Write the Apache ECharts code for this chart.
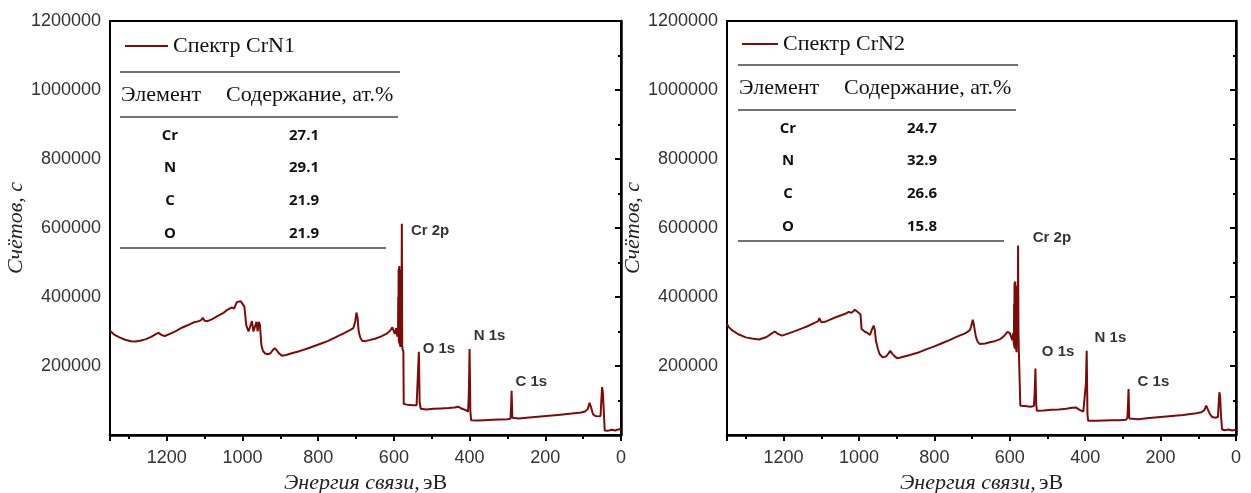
<!DOCTYPE html>
<html>
<head>
<meta charset="utf-8">
<script src="https://cdn.jsdelivr.net/npm/echarts@6/dist/echarts.min.js"></script>
<style>
  html, body { margin: 0; padding: 0; background: #fff; }
  #chart { width: 1251px; height: 493px; }
</style>
</head>
<body>
<div id="chart"></div>
<script>
// Спектр CrN1: энергия связи (эВ) и счёт
const energy1 = [1350, 1340, 1325, 1310, 1295, 1284, 1270, 1255, 1240, 1228, 1222, 1214, 1205, 1190, 1175, 1160, 1145, 1130, 1115, 1108, 1105, 1100, 1092, 1080, 1065, 1050, 1040, 1035, 1028, 1022, 1015, 1010, 1005, 1000, 995, 990, 984, 979, 975, 971, 967, 963, 960, 957, 954, 950, 946, 940, 933, 926, 920, 915, 910, 903, 896, 885, 870, 850, 830, 810, 790, 775, 760, 745, 730, 715, 707, 702, 699, 696, 693, 689, 684, 675, 665, 650, 635, 620, 610, 604, 600, 597, 594,
  591, 589, 588.5, 588, 587.5, 587, 586.5, 586, 585.5, 585, 584.5, 584, 583.5, 583, 582.5, 582, 581.5, 581, 580, 579,
  578, 577, 575, 574, 565, 550, 540, 536, 534, 532, 529, 515, 495, 475, 455, 440, 430, 420, 410, 404, 402, 400, 398, 396, 380, 360, 340, 320, 300, 292, 290, 289, 287, 285, 270, 250, 220, 190, 160, 130, 105, 95, 88, 83, 79, 74, 68, 60, 54, 52, 50, 48, 46, 43, 35, 25, 15, 5, 0]
const counts1 = [302000, 292000, 283000, 276000, 272000, 271000, 273000, 278000, 285000, 293000, 296000, 290000, 287000, 294000, 302000, 311000, 318000, 326000, 330000, 334000, 340000, 331000, 330000, 336000, 345000, 354000, 363000, 359000, 370000, 366000, 385000, 380000, 388000, 384000, 372000, 318000, 300000, 298000, 330000, 300000, 298000, 328000, 300000, 328000, 320000, 260000, 244000, 236000, 234000, 237000, 246000, 252000, 246000, 236000, 230000, 232000, 237000, 243000, 250000, 258000, 266000, 272000, 280000, 288000, 296000, 305000, 310000, 330000, 355000, 340000, 300000, 283000, 273000, 272000, 275000, 279000, 285000, 293000, 302000, 312000, 300000, 293000, 310000,
  285000, 300000, 400000, 290000, 480000, 270000, 485000, 265000, 490000, 270000, 480000, 260000, 475000, 255000, 470000, 260000, 460000, 280000, 300000, 612000,
  258000, 248000, 242000, 90000, 88000, 86000, 86000, 90000, 241000, 95000, 76000, 74000, 76000, 77000, 78000, 80000, 82000, 76000, 72000, 68000, 120000, 249000, 70000, 43000, 42000, 43000, 44000, 45000, 46000, 47000, 90000, 128000, 50000, 46000, 48000, 50000, 53000, 56000, 59000, 62000, 65000, 68000, 75000, 93000, 80000, 60000, 55000, 54000, 55000, 100000, 139000, 125000, 80000, 13000, 12000, 15000, 13000, 17000, 14000]

// Спектр CrN2
const energy2 = [1350, 1345, 1337, 1320, 1300, 1284, 1265, 1245, 1232, 1223, 1215, 1204, 1190, 1170, 1151, 1135, 1118, 1108, 1105, 1100, 1090, 1075, 1060, 1045, 1035, 1027, 1020, 1011, 1005, 1000, 996, 993, 985, 979, 975, 971, 968, 964, 961, 958, 955, 950, 945, 937, 928, 922, 917, 912, 905, 898, 885, 865, 840, 820, 800, 780, 760, 740, 720, 712, 705, 700, 698, 695, 690, 685, 680, 665, 653, 640, 625, 615, 606, 600, 596, 593,
  591, 589, 588.5, 588, 587.5, 587, 586.5, 586, 585.5, 585, 584.5, 584, 583.5, 583, 582.5, 582, 581, 579, 578,
  577, 576, 574, 572, 560, 545, 536, 534, 532, 530, 528, 510, 490, 470, 450, 435, 425, 415, 405, 400, 398, 396, 394, 392, 370, 350, 330, 310, 292, 288, 286, 285, 283, 281, 260, 230, 200, 170, 140, 110, 92, 84, 79, 75, 70, 63, 55, 48, 46, 44, 42, 40, 37, 30, 20, 10, 0]
const counts2 = [322000, 312000, 304000, 292000, 283000, 280000, 277000, 284000, 294000, 300000, 293000, 288000, 293000, 301000, 309000, 316000, 325000, 330000, 339000, 327000, 328000, 335000, 342000, 348000, 352000, 357000, 354000, 363000, 358000, 362000, 350000, 307000, 300000, 297000, 300000, 290000, 292000, 310000, 317000, 305000, 273000, 250000, 234000, 225000, 228000, 236000, 244000, 236000, 228000, 222000, 226000, 232000, 240000, 249000, 257000, 266000, 275000, 285000, 294000, 299000, 305000, 325000, 334000, 318000, 285000, 270000, 264000, 265000, 269000, 272000, 278000, 287000, 299000, 295000, 290000, 275000,
  295000, 260000, 380000, 255000, 440000, 250000, 445000, 250000, 445000, 255000, 435000, 250000, 430000, 245000, 425000, 240000, 300000, 290000, 549000,
  300000, 245000, 240000, 85000, 84000, 82000, 84000, 120000, 193000, 90000, 70000, 71000, 73000, 74000, 76000, 79000, 80000, 73000, 68000, 70000, 150000, 244000, 60000, 41000, 41000, 42000, 43000, 43000, 44000, 50000, 100000, 133000, 48000, 44000, 46000, 49000, 52000, 55000, 58000, 62000, 66000, 72000, 85000, 82000, 62000, 52000, 50000, 52000, 90000, 124000, 110000, 60000, 16000, 14000, 16000, 13000, 15000]

// подписи пиков (положение в координатах данных)
const peakNames = ['Cr 2p', 'O 1s', 'N 1s', 'C 1s']
const peakE1 = [555, 524, 389, 279]
const peakY1 = [591000, 249000, 287000, 154000]
const peakE2 = [539, 515, 375, 261]
const peakY2 = [571000, 240000, 281000, 154000]

// таблицы состава
const elements = ['Cr', 'N', 'C', 'O']
const content1 = ['27.1', '29.1', '21.9', '21.9']
const content2 = ['24.7', '32.9', '26.6', '15.8']

const seriesNames = ['Спектр CrN1', 'Спектр CrN2']

const lineColor = '#7b0c0c'
const zip = (xs, ys) => xs.map((x, i) => [x, ys[i]])

const myChart = echarts.init(document.getElementById('chart'))

const xAxisBase = (gridIndex) => ({
  gridIndex,
  type: 'value',
  inverse: true,
  min: 0,
  max: 1350,
  interval: 200,
  name: '{i|Энергия связи,} {n|эВ}',
  nameLocation: 'middle',
  nameGap: 34,
  nameTextStyle: {
    rich: {
      i: { fontFamily: 'Liberation Serif', fontStyle: 'italic', fontSize: 22, color: '#222' },
      n: { fontFamily: 'Liberation Serif', fontSize: 22, color: '#222' }
    }
  },
  axisLine: { show: true, lineStyle: { color: '#000', width: 2.5 } },
  axisTick: { show: true, inside: false, length: 6, lineStyle: { color: '#000', width: 2 } },
  minorTick: { show: true, splitNumber: 2, length: 4, lineStyle: { color: '#000', width: 2 } },
  axisLabel: {
    showMaxLabel: false,
    margin: 14,
    fontFamily: 'Liberation Sans',
    fontSize: 18,
    color: '#333',
    formatter: (v) => String(v)
  },
  splitLine: { show: false }
})

const yAxisBase = (gridIndex) => ({
  gridIndex,
  type: 'value',
  min: 0,
  max: 1200000,
  interval: 200000,
  name: 'Счётов, с',
  nameLocation: 'middle',
  nameGap: 80,
  nameTextStyle: { fontFamily: 'Liberation Serif', fontStyle: 'italic', fontSize: 22, color: '#222' },
  axisLine: { show: true, lineStyle: { color: '#000', width: 2.5 } },
  axisTick: { show: true, inside: false, length: 6, lineStyle: { color: '#000', width: 2 } },
  minorTick: { show: true, splitNumber: 2, length: 3, lineStyle: { color: '#000', width: 2 } },
  axisLabel: {
    showMinLabel: false,
    margin: 9,
    fontFamily: 'Liberation Sans',
    fontSize: 18,
    color: '#333',
    formatter: (v) => String(v)
  },
  splitLine: { show: false }
})

const spectrum = (name, idx, xs, ys) => ({
  name,
  type: 'line',
  xAxisIndex: idx,
  yAxisIndex: idx,
  symbol: 'none',
  color: lineColor,
  lineStyle: { color: lineColor, width: 2 },
  data: zip(xs, ys)
})

const peaks = (idx, es, ys) => ({
  type: 'scatter',
  xAxisIndex: idx,
  yAxisIndex: idx,
  symbolSize: 0,
  silent: true,
  label: {
    show: true,
    position: 'right',
    distance: 0,
    formatter: '{b}',
    fontFamily: 'Liberation Sans',
    fontWeight: 'bold',
    fontSize: 15,
    color: '#000'
  },
  data: es.map((e, i) => ({ name: peakNames[i], value: [e, ys[i]] }))
})

// таблица «Элемент / Содержание» рисуется графикой
const table = (ox, oy, values) => {
  const lineStyle = { stroke: '#444', lineWidth: 1.5 }
  const head = '22px "Liberation Serif"'
  const cell = 'bold 15px "Open Sans"'
  const rowsY = [64, 96, 129, 162]
  const items = [
    { type: 'line', shape: { x1: ox, y1: oy, x2: ox + 280, y2: oy }, style: lineStyle },
    { type: 'line', shape: { x1: ox, y1: oy + 45, x2: ox + 278, y2: oy + 45 }, style: lineStyle },
    { type: 'line', shape: { x1: ox, y1: oy + 176, x2: ox + 266, y2: oy + 176 }, style: lineStyle },
    { type: 'text', style: { text: 'Элемент', x: ox + 1, y: oy + 23, font: head, fill: '#111', verticalAlign: 'middle' } },
    { type: 'text', style: { text: 'Содержание, ат.%', x: ox + 106, y: oy + 23, font: head, fill: '#111', verticalAlign: 'middle' } }
  ]
  elements.forEach((el, i) => {
    items.push({ type: 'text', style: { text: el, x: ox + 50, y: oy + rowsY[i], font: cell, fill: '#111', align: 'center', verticalAlign: 'middle' } })
    items.push({ type: 'text', style: { text: values[i], x: ox + 184, y: oy + rowsY[i], font: cell, fill: '#111', align: 'center', verticalAlign: 'middle' } })
  })
  return items
}

const legendText = { fontFamily: 'Liberation Serif', fontSize: 22, color: '#111' }

const option = {
  animation: false,
  backgroundColor: '#fff',
  grid: [
    { left: 110, right: 630, top: 21, bottom: 58, outerBoundsMode: 'none', containLabel: false, show: true, borderColor: '#000', borderWidth: 2 },
    { left: 727, right: 15, top: 21, bottom: 58, outerBoundsMode: 'none', containLabel: false, show: true, borderColor: '#000', borderWidth: 2 }
  ],
  legend: [
    {
      data: [seriesNames[0]],
      left: 120,
      top: 30,
      icon: 'rect',
      itemWidth: 43,
      itemHeight: 2,
      textStyle: legendText
    },
    {
      data: [seriesNames[1]],
      left: 737,
      top: 28,
      icon: 'rect',
      itemWidth: 36,
      itemHeight: 2,
      textStyle: legendText
    }
  ],
  xAxis: [xAxisBase(0), xAxisBase(1)],
  yAxis: [yAxisBase(0), yAxisBase(1)],
  series: [
    spectrum(seriesNames[0], 0, energy1, counts1),
    spectrum(seriesNames[1], 1, energy2, counts2),
    peaks(0, peakE1, peakY1),
    peaks(1, peakE2, peakY2)
  ],
  graphic: [...table(120, 72, content1), ...table(738, 65, content2)]
}

myChart.setOption(option)
</script>
</body>
</html>
